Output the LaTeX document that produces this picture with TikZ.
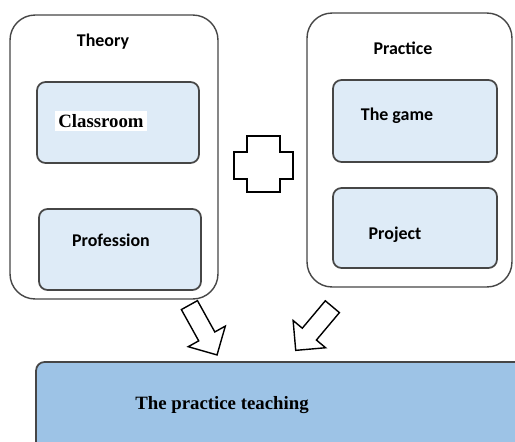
\documentclass[tikz,border=0pt]{standalone}
\usepackage{fontspec}
\setmainfont{Liberation Serif}
\newfontfamily\calibfont{Carlito}
\usepackage{tikz}
\usetikzlibrary{shapes,arrows,positioning,calc}
\definecolor{boxline}{RGB}{70,70,70}
\definecolor{itemblue}{RGB}{222,235,247}
\definecolor{resultblue}{RGB}{157,195,230}
\tikzstyle{group} = [rectangle, rounded corners=0.5cm, draw=boxline, line width=0.8pt, fill=white]
\tikzstyle{item} = [rectangle, rounded corners=0.17cm, draw=boxline, line width=1pt, fill=itemblue, minimum width=3.24cm, minimum height=1.62cm]
\tikzstyle{result} = [rectangle, rounded corners=0.17cm, draw=boxline, line width=1pt, fill=resultblue]
\tikzstyle{sanslabel} = [font=\calibfont\fontsize{10.2}{12}\selectfont\bfseries, inner sep=1pt]
\tikzstyle{seriflabel} = [font=\fontsize{10.7}{13}\selectfont\bfseries, inner sep=1pt]
\tikzstyle{blockarrow} = [single arrow, draw=black, line width=0.8pt, fill=white, inner sep=0.17cm, single arrow head extend=0.24cm, minimum height=1.14cm]

\begin{document}
\begin{tikzpicture}[x=0.02cm, y=-0.02cm]
\useasboundingbox (0,0) rectangle (515,441);
\clip (0,0) rectangle (515,441);

% Arrows into the result
\node [blockarrow, rotate=-61] (arrtheory) at (201,326) {};
\node [blockarrow, rotate=-130] (arrpractice) at (317,325) {};

% Theory group
\node [group, minimum width=4.16cm, minimum height=5.68cm] (theory) at (114,157) {};
\node [sanslabel] (theorytxt) at (103,42) {Theory};
\node [item] (classroom) at (118,122.5) {};
\node [seriflabel, fill=white, inner sep=2pt] (classroomtxt) at (101,121) {Classroom};
\node [item] (profession) at (120,249.5) {};
\node [sanslabel] (professiontxt) at (111,240) {Profession};

% Practice group
\node [group, minimum width=4.10cm, minimum height=5.48cm] (practice) at (409.5,150) {};
\node [sanslabel] (practicetxt) at (403,48) {Practice};
\node [item, minimum width=3.28cm, minimum height=1.64cm] (game) at (415,121) {};
\node [sanslabel] (gametxt) at (397,116) {The game};
\node [item, minimum width=3.28cm, minimum height=1.60cm] (project) at (415,228) {};
\node [sanslabel] (projecttxt) at (395,235) {Project};

% Plus sign
\draw [line width=0.9pt] (247,136) -- (280,136) -- (280,152) -- (293,152) -- (293,179) -- (280,179) -- (280,192) -- (247,192) -- (247,179) -- (234,179) -- (234,152) -- (247,152) -- cycle;

% Result
\node [result, minimum width=10.48cm, minimum height=2.36cm] (teaching) at (298,421) {};
\node [seriflabel] (teachingtxt) at (222,405) {The practice teaching};

\end{tikzpicture}
\end{document}
